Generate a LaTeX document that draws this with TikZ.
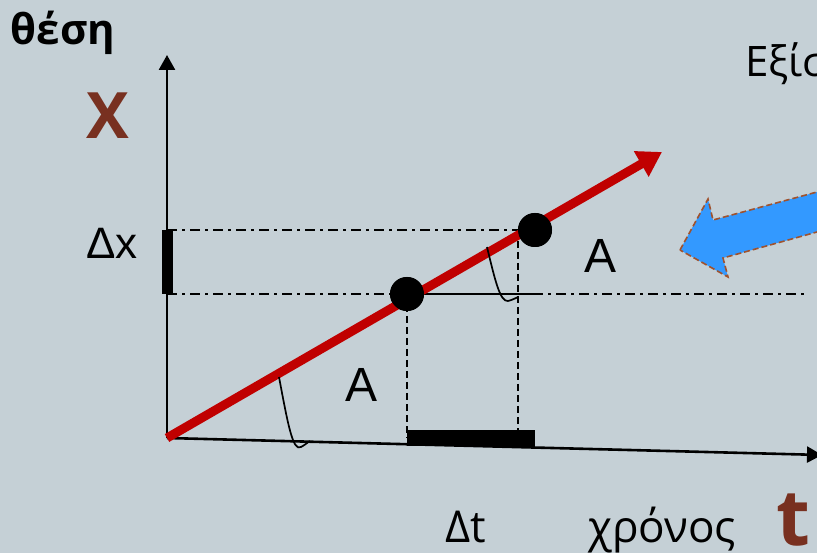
\documentclass[tikz,border=0pt]{standalone}
\usepackage{fontspec}
\setmainfont{Open Sans}
\newfontfamily\arialf{Liberation Sans}
\usetikzlibrary{arrows.meta}
\definecolor{bgc}{RGB}{197,208,214}
\definecolor{redl}{RGB}{192,0,0}
\definecolor{brownt}{RGB}{120,48,32}
\definecolor{bluea}{RGB}{51,153,255}
\definecolor{brownd}{RGB}{160,82,45}
\tikzset{
  axisline/.style={line width=2.6pt,-{Triangle[length=15pt,width=16pt]}},
  dashdotline/.style={line width=2pt,dash pattern=on 10pt off 5pt on 3pt off 5pt},
  dashline/.style={line width=2pt,dash pattern=on 7pt off 4pt},
  dotnode/.style={circle,fill=black,minimum size=34pt,inner sep=0pt},
  anglemark/.style={line width=1.7pt},
  bar/.style={fill=black,draw=none},
  lbl/.style={inner sep=0pt,font=\fontsize{44}{44}\selectfont},
}
\begin{document}
\begin{tikzpicture}[x=1pt,y=-1pt]
\fill[bgc] (0,0) rectangle (817,553);
\useasboundingbox (0,0) rectangle (817,553);
% coordinates
\coordinate (O) at (167,438);
\coordinate (ytop) at (167,55);
\coordinate (xend) at (822,455);
\coordinate (rtip) at (662,152);
\coordinate (hlend) at (805,294);
% axes
\draw[axisline] (O) -- (ytop);
\draw[axisline] (O) -- (xend);
% dash-dot guides
\coordinate (y2) at (167,230);
\coordinate (y1) at (167,294);
\node[dotnode] (P1) at (407,294) {};
\node[dotnode] (P2) at (535,230) {};
\coordinate (ux) at (520,230);
\draw[dashdotline] (y2) -- (ux);
\draw[dashdotline] (y1) -- (P1.west);
\coordinate (solidend) at (533,294);
\draw[line width=2pt] (P1.center) -- (solidend);
\draw[dashdotline] (solidend) -- (hlend);
% vertical dashed
\coordinate (b1) at (407,438);
\coordinate (t2) at (518,230);
\coordinate (b2) at (518,442);
\draw[dashline] (P1.center) -- (b1);
\draw[dashline] (t2) -- (b2);
% bars
\fill[bar] (162,230) rectangle (173,294);
\fill[bar] (407,430) rectangle (535,446);
% red line
\draw[redl,line width=9pt,-{Triangle[length=24pt,width=28pt]}] (O) -- (rtip);
\node[dotnode] at (P1) {};
\node[dotnode] at (P2) {};
% angle marks
\draw[anglemark] (279,377) .. controls (288,425) and (293,452) .. (301,447) .. controls (305,445) and (308,442) .. (310,441);
\draw[anglemark] (487,247) .. controls (495,280) and (500,302) .. (508,301) .. controls (512,300) and (516,298) .. (518,297);
% blue arrow
\draw[fill=bluea,draw=brownd,line width=1.6pt,dash pattern=on 6pt off 3pt]
  (680,250) -- (708,199) -- (713,220) -- (830,188.5) -- (830,228.4) -- (723,258) -- (728,277) -- cycle;
% texts
\node[inner sep=0pt,font=\fontsize{42}{42}\selectfont\bfseries] (thesi) at (63,33) {θέση};
\node[inner sep=0pt,font=\fontsize{64}{64}\selectfont\bfseries,text=brownt] (X) at (108,116) {X};
\node[lbl,font=\arialf\fontsize{44}{44}\selectfont] (dx) at (112,243) {Δx};
\node[lbl,font=\arialf\fontsize{48}{48}\selectfont] (A1) at (362,385) {A};
\node[lbl,font=\arialf\fontsize{48}{48}\selectfont] (A2) at (601,256) {A};
\node[lbl,anchor=base] (dt) at (466,542) {Δt};
\node[lbl,anchor=base] (chronos) at (662,542) {χρόνος};
\node[inner sep=0pt,anchor=base,font=\fontsize{78}{78}\selectfont\bfseries,text=brownt] (tl) at (793,545) {t};
\node[lbl,anchor=base west,font=\fontsize{42}{42}\selectfont] (eq) at (745,77) {Εξίσωση};
\end{tikzpicture}
\end{document}
